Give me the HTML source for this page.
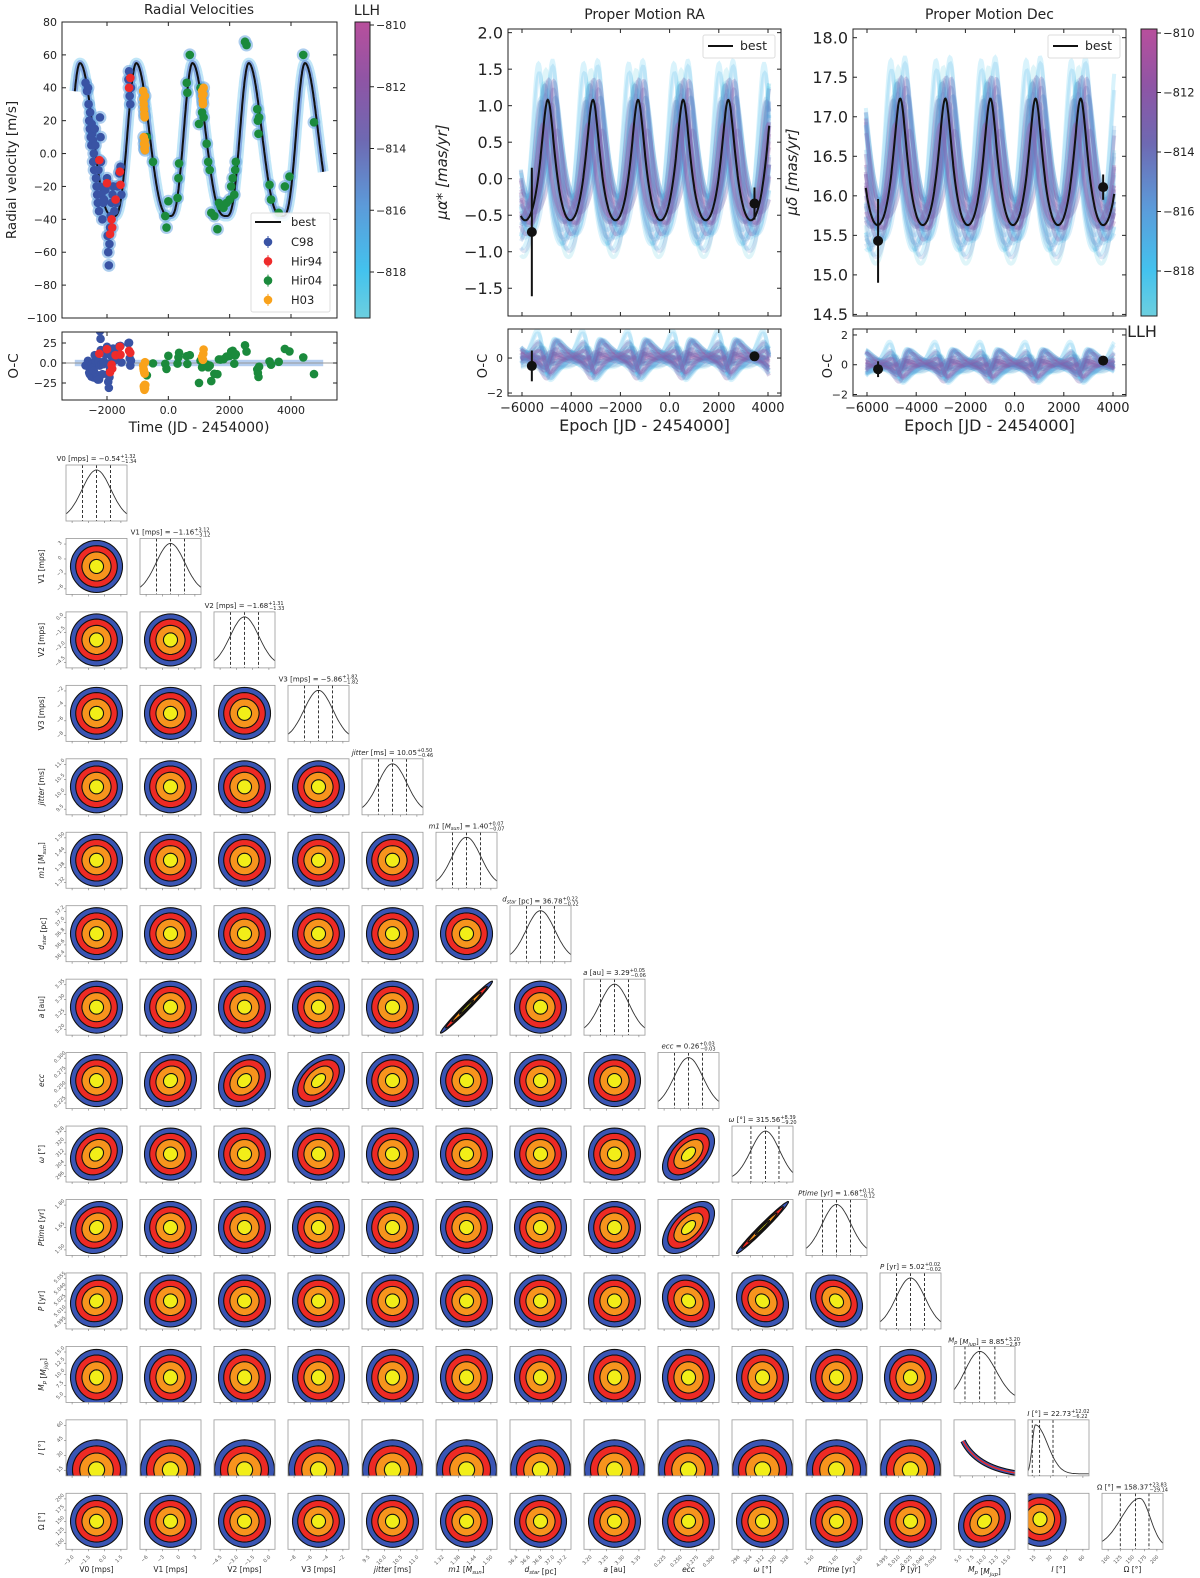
<!DOCTYPE html>
<html><head><meta charset="utf-8">
<style>
html,body{margin:0;padding:0;background:#fff;}
svg{display:block;font-family:"DejaVu Sans","Liberation Sans",sans-serif;}
</style></head>
<body>
<svg id="fig" width="1200" height="1578" viewBox="0 0 1200 1578" xmlns="http://www.w3.org/2000/svg">
<defs>
<linearGradient id="cbar" x1="0" y1="1" x2="0" y2="0">
<stop offset="0" stop-color="#6ccfdf"/><stop offset="0.16" stop-color="#43c2ee"/><stop offset="0.38" stop-color="#5c9ad9"/><stop offset="0.6" stop-color="#6e69b2"/><stop offset="0.8" stop-color="#8e55a5"/><stop offset="1" stop-color="#b84f9c"/>
</linearGradient>
</defs>
</svg>
<script>
// ---------------- DATA ----------------
const rvC98T=[-2700,-2650,-2620,-2600,-2580,-2560,-2550,-2530,-2510,-2500,-2480,-2460,-2450,-2430,-2420,-2400,-2380,-2360,-2340,-2320,-2300,-2280,-2260,-2240,-2230,-2210,-2200,-2180,-2150,-2120,-2100,-2050,-2000,-1980,-1960,-1940,-1920,-1900,-1880,-1850,-1820,-1800,-1760,-1700,-1650,-1600,-1560,-1530,-1300,-1280,-1260,-1240,-1220];
const rvC98V=[43,38,40,30,20,15,25,10,5,18,12,8,-5,0,-10,15,5,-15,-20,-25,-30,-10,-35,-20,22,10,-5,-25,-40,-30,-28,-22,-15,-50,-60,-68,-55,-45,-38,-30,-25,-20,-35,-30,-20,-12,-8,-25,45,50,35,30,40];
const rvHir94T=[-2250,-2000,-1850,-1830,-1900,-1720,-1580,-1560,-1280,-1240];
const rvHir94V=[-4,-18,-40,-45,-49,-28,-11,-19,40,46];
const rvH03T=[-820,-810,-800,-790,-780,-770,-760,-800,-790,-780,-770,-760,-750,1100,1110,1120,1130,1140,1150];
const rvH03V=[38,33,30,27,24,22,35,10,6,3,8,2,5,38,35,32,30,36,40];
const rvHir04T=[-700,-500,-100,-60,0,300,330,350,600,620,700,1050,1000,1100,1150,1250,1300,1350,1400,1500,1600,1650,1700,1800,1900,2000,2050,2100,2150,2180,2200,2500,2550,2900,2920,2940,2960,3300,3350,3600,3800,3950,4400,4750];
const rvHir04V=[10,-5,-38,-45,-29,-27,-15,-6,43,37,60,40,18,25,22,6,-5,-10,-36,-38,-46,-30,-32,-33,-30,-28,-20,-15,-25,-10,-5,68,66,27,20,12,22,-19,-28,-36,-20,-14,60,19];
const rvTicksX=[-2000,0,2000,4000];
const rvTicksY=[-100,-80,-60,-40,-20,0,20,40,60,80];
const rvResTicksY=[-25,0,25];
const pmTicksX=[-6000,-4000,-2000,0,2000,4000];
const raTicksY=[-1.5,-1.0,-0.5,0.0,0.5,1.0,1.5,2.0];
const decTicksY=[14.5,15.0,15.5,16.0,16.5,17.0,17.5,18.0];
const raResTicksY=[-2,0];
const decResTicksY=[-2,0,2];
const raObsT=[-5600,3450], raObsV=[-0.73,-0.34], raObsE=[0.88,0.22];
const decObsT=[-5550,3600], decObsV=[15.43,16.11], decObsE=[0.53,0.16];
const raResV=[-0.45,0.1], decResV=[-0.3,0.28];
const llhTicks=[-810,-812,-814,-816,-818];
// posterior samples (amplitude scale, phase shift [d], offset shift, llh)
const sampAmp=[1.0,0.75,1.35,0.85,1.2,0.65,1.55,0.95,1.1,0.8,1.3,0.9,1.15,0.7,1.45,0.82,1.25,1.0,0.72,1.4,0.88,1.12,0.78,1.22,0.92,1.08,0.68,1.5,0.98,1.05,1.18,0.86,1.28,0.94,1.38,0.76];
const sampPh=[0,150,-150,300,-300,80,-80,230,-230,350,-350,120,-120,0,190,-190,270,-270,50,-50,320,-320,25,-25,160,-160,380,-380,100,-100,240,-240,40,-40,200,-200];
const sampOff=[0,0.12,-0.12,0.18,-0.18,0.06,-0.06,0.22,-0.22,0,0.14,-0.14,0.09,-0.09,0.2,-0.2,0.03,-0.03,0.11,-0.11,0.16,-0.16,0.07,-0.07,0,0.19,-0.19,0.1,-0.1,0.02,0.13,-0.13,0.05,-0.05,0.17,-0.17];
const sampLLH=[-813,-817,-818,-814,-816,-812,-819,-813,-815,-818,-817,-812,-814,-811,-818,-815,-817,-813,-819,-815,-818,-816,-812,-817,-813,-819,-813,-818,-814,-815,-812,-816,-813,-814,-817,-811];
// orbit fit parameters: peak time, max, min, falling fraction of period (null = keplerian w=0 shape)
const orbitP=1834, orbitE=0.26;
const rvFit=[-2880,55,-38,0.6];
const raFit=[-4950,1.08,-0.57,null];
const decFit=[-4650,17.23,15.63,null];
// corner plot
const cornerNames=["V0 [mps]","V1 [mps]","V2 [mps]","V3 [mps]","jitter [ms]","m1 [M_sun]","d_star [pc]","a [au]","ecc","ω [°]","Ptime [yr]","P [yr]","M_p [M_jup]","I [°]","Ω [°]"];
const cornerMed=["−0.54","−1.16","−1.68","−5.86","10.05","1.40","36.78","3.29","0.26","315.56","1.68","5.02","8.85","22.73","158.37"];
const cornerUp=["+1.32","+3.12","+1.31","+1.82","+0.50","+0.07","+0.22","+0.05","+0.03","+8.39","+0.12","+0.02","+3.20","+12.02","+23.83"];
const cornerLo=["−1.34","−3.12","−1.33","−1.82","−0.46","−0.07","−0.22","−0.06","−0.03","−9.20","−0.12","−0.02","−2.87","−6.22","−29.14"];
const cornerTicks=[["−3.0","−1.5","0.0","1.5"],["−6","−3","0","3"],["−4.5","−3.0","−1.5","0.0"],["−8","−6","−4","−2"],["9.5","10.0","10.5","11.0"],["1.32","1.38","1.44","1.50"],["36.4","36.6","36.8","37.0","37.2"],["3.20","3.25","3.30","3.35"],["0.225","0.250","0.275","0.300"],["296","304","312","320","328"],["1.50","1.65","1.80"],["4.995","5.010","5.025","5.040","5.055"],["5.0","7.5","10.0","12.5","15.0"],["15","30","45","60"],["100","125","150","175","200"]];
const diagMu=[0.5,0.5,0.5,0.5,0.5,0.5,0.5,0.5,0.5,0.55,0.5,0.5,0.42,0.12,0.62];
const diagSigL=[0.235,0.235,0.235,0.235,0.235,0.235,0.235,0.235,0.235,0.24,0.235,0.235,0.24,0.05,0.3];
const diagSigR=[0.235,0.235,0.235,0.235,0.235,0.235,0.235,0.235,0.235,0.23,0.235,0.235,0.27,0.2,0.17];
const diagQ16=[0.27,0.27,0.27,0.27,0.27,0.27,0.27,0.27,0.27,0.31,0.27,0.27,0.18,0.07,0.30];
const diagQ50=[0.5,0.5,0.5,0.5,0.5,0.5,0.5,0.5,0.5,0.55,0.5,0.5,0.42,0.19,0.55];
const diagQ84=[0.73,0.73,0.73,0.73,0.73,0.73,0.73,0.73,0.73,0.77,0.73,0.73,0.67,0.41,0.77];
const corrRow=[7,8,8,8,9,9,10,10,10,11,11,11,11,14];
const corrCol=[5,1,2,3,0,8,0,8,9,0,8,9,10,12];
const corrRho=[0.985,0.1,0.25,0.45,0.18,0.5,0.12,0.55,0.985,0.1,-0.15,-0.15,-0.2,0.2];
const levels=[1,0.8,0.56,0.27];
const levelColors=["#3a55b4","#ee2a24","#f7941d","#f2ee18"];

// ---------------- HELPERS ----------------
const NS="http://www.w3.org/2000/svg";
const root=document.getElementById('fig');
function mk(tag,parent,attrs){const e=document.createElementNS(NS,tag);for(const k in attrs)e.setAttribute(k,attrs[k]);parent.appendChild(e);return e;}
function kep0(t){const M=2*Math.PI*t/orbitP;let E=M;for(let i=0;i<12;i++)E=E-(E-orbitE*Math.sin(E)-M)/(1-orbitE*Math.cos(E));const nu=2*Math.atan2(Math.sqrt(1+orbitE)*Math.sin(E/2),Math.sqrt(1-orbitE)*Math.cos(E/2));return Math.cos(nu)+orbitE;}
// normalized periodic shape in [-1,1], peak at t=tPeak
function norm(t,tPeak,fall){
  if(fall===null){const g=kep0(t-tPeak);return 2*(g-(orbitE-1))/2-1;}
  let ph=((t-tPeak)/orbitP)%1;if(ph<0)ph+=1;
  const c=ph<fall?Math.cos(Math.PI*ph/fall):-Math.cos(Math.PI*(ph-fall)/(1-fall));
  return 2*Math.pow((c+1)/2,1.5)-1;
}
function model(fit,t){const mid=(fit[1]+fit[2])/2,half=(fit[1]-fit[2])/2;return mid+half*norm(t,fit[0],fit[3]);}
function sampleModel(fit,i,t){const mid=(fit[1]+fit[2])/2,half=(fit[1]-fit[2])/2;return mid+half*sampOff[i]+half*sampAmp[i]*norm(t,fit[0]+sampPh[i],fit[3]);}
function lin(d0,d1,r0,r1){return v=>r0+(v-d0)*(r1-r0)/(d1-d0);}
const cstops=[[-810,[184,79,156]],[-812,[142,85,165]],[-814,[110,105,178]],[-816,[92,154,217]],[-818,[67,194,238]],[-819.5,[108,208,222]]];
function llhColor(v){for(let i=0;i<cstops.length-1;i++){const a=cstops[i],b=cstops[i+1];if(v<=a[0]&&v>=b[0]){const f=(a[0]-v)/(a[0]-b[0]);const c=a[1].map((x,j)=>Math.round(x+(b[1][j]-x)*f));return `rgb(${c[0]},${c[1]},${c[2]})`;}}return 'rgb(108,208,222)';}
function fmt(v){return (v<0?'−':'')+Math.abs(v).toFixed(Number.isInteger(v)&&Math.abs(v)>=10?0:1);}
function frame(g,b,xs,ys,xt,yt,opt){
  const r=mk('rect',g,{x:b.x,y:b.y,width:b.w,height:b.h,fill:'none',stroke:'#222','stroke-width':1});
  
  
  xt.forEach(v=>{const x=xs(v);mk('line',g,{x1:x,x2:x,y1:b.y+b.h,y2:b.y+b.h-4,stroke:'#222'});mk('line',g,{x1:x,x2:x,y1:b.y,y2:b.y+4,stroke:'#222'});
    if(opt.xlab){const t=mk('text',g,{x:x,y:b.y+b.h+(opt.xfs||opt.fs)+3,'font-size':opt.xfs||opt.fs,'text-anchor':'middle',fill:'#222'});t.textContent=fmt(v);
      
      }});
  yt.forEach(v=>{const y=ys(v);mk('line',g,{x1:b.x,x2:b.x+4,y1:y,y2:y,stroke:'#222'});mk('line',g,{x1:b.x+b.w,x2:b.x+b.w-4,y1:y,y2:y,stroke:'#222'});
    const t=mk('text',g,{x:b.x-5,y:y+opt.fs*0.36,'font-size':opt.fs,'text-anchor':'end',fill:'#222'});t.textContent=opt.yfmt?opt.yfmt(v):fmt(v);
    
    });
}
function txt(g,x,y,s,fs,anchor,rot,extra){const t=mk('text',g,Object.assign({x:x,y:y,'font-size':fs,'text-anchor':anchor||'middle',fill:'#222'},extra||{}));if(rot)t.setAttribute('transform',`rotate(${rot} ${x} ${y})`);t.textContent=s;return t;}
function clip(id,b){const c=mk('clipPath',root.querySelector('defs'),{id:id});mk('rect',c,{x:b.x,y:b.y,width:b.w,height:b.h});}
function pathFrom(ts,fn,xs,ys){let d='';ts.forEach((t,i)=>{d+=(i?'L':'M')+xs(t).toFixed(1)+','+ys(fn(t)).toFixed(1);});return d;}

// ---------------- RV PANEL ----------------
const gRV=mk('g',root,{});


const rvB={x:62,y:22,w:275,h:296}, rvRB={x:62,y:332,w:275,h:68};
const rvX=lin(-2000,4000,107,291), rvY=lin(-100,80,318,22), rvRY=lin(-25,25,383,343);
clip('c-rv',rvB);clip('c-rvr',rvRB);
const rvModel=t=>model(rvFit,t);
const tGrid=[];for(let t=-3050;t<=5050;t+=12)tGrid.push(t);
const gRVc=mk('g',gRV,{'clip-path':'url(#c-rv)'});
mk('path',gRVc,{d:pathFrom(tGrid,rvModel,rvX,rvY),fill:'none',stroke:'#4ab8ea','stroke-width':11,'stroke-opacity':0.35,'stroke-linejoin':'round'});
mk('path',gRVc,{d:pathFrom(tGrid,rvModel,rvX,rvY),fill:'none',stroke:'#5b7fd0','stroke-width':6,'stroke-opacity':0.6,'stroke-linejoin':'round'});
const sets=[[rvC98T,rvC98V,'#3953a4','c98'],[rvHir94T,rvHir94V,'#ee2b2b','hir94'],[rvHir04T,rvHir04V,'#1b8a3c','hir04'],[rvH03T,rvH03V,'#f9a21b','h03']];
sets.forEach(s=>{s[0].forEach((t,i)=>{mk('circle',gRVc,{cx:rvX(t),cy:rvY(s[1][i]),r:6.5,fill:'#6aa6e0','fill-opacity':0.55});});});
const bestRV=mk('path',gRVc,{d:pathFrom(tGrid,rvModel,rvX,rvY),fill:'none',stroke:'#111','stroke-width':2});


sets.forEach(s=>{s[0].forEach((t,i)=>{const c=mk('circle',gRVc,{cx:rvX(t),cy:rvY(s[1][i]),r:4.3,fill:s[2]});
  
  });});
frame(gRV,rvB,rvX,rvY,rvTicksX,rvTicksY,{fs:11});
// residuals
const gRVr=mk('g',gRV,{'clip-path':'url(#c-rvr)'});
mk('rect',gRVr,{x:rvX(-3050),y:rvRY(4),width:rvX(5050)-rvX(-3050),height:rvRY(-4)-rvRY(4),fill:'#6a9ce0','fill-opacity':0.5});
mk('line',gRVr,{x1:rvRB.x,x2:rvRB.x+rvRB.w,y1:rvRY(0),y2:rvRY(0),stroke:'#999','stroke-width':1});
sets.forEach(s=>{s[0].forEach((t,i)=>{const c=mk('circle',gRVr,{cx:rvX(t),cy:rvRY(s[1][i]-rvModel(t)),r:4.3,fill:s[2]});
  
  });});
frame(gRV,rvRB,rvX,rvRY,rvTicksX,rvResTicksY,{fs:11,xlab:true});
let t;
t=txt(gRV,199,14,'Radial Velocities',13.5);
t=txt(gRV,16,170,'Radial velocity [m/s]',13.5,'middle',-90);
t=txt(gRV,18,366,'O-C',13.5,'middle',-90);
t=txt(gRV,199,432,'Time (JD - 2454000)',14);
// legend
const lg=mk('g',gRV,{});


mk('rect',lg,{x:251,y:213,width:79,height:99,rx:2,fill:'#fff','fill-opacity':0.85,stroke:'#ddd'});
mk('line',lg,{x1:255,x2:281,y1:222,y2:222,stroke:'#111','stroke-width':2});
txt(lg,291,226,'best',11.5,'start');
[['C98','#3953a4'],['Hir94','#ee2b2b'],['Hir04','#1b8a3c'],['H03','#f9a21b']].forEach((e,i)=>{const y=242+i*19.3;mk('circle',lg,{cx:268,cy:y,r:4.3,fill:e[1]});mk('line',lg,{x1:268,x2:268,y1:y-6,y2:y+6,stroke:e[1],'stroke-width':1});
  const tt=txt(lg,291,y+4,e[0],11.5,'start');});
// colorbar RV
const cb1=mk('rect',gRV,{x:355,y:22,width:15,height:296,fill:'url(#cbar)',stroke:'#222'});


const cbY1=lin(-810,-818,25,272);
llhTicks.forEach(v=>{const y=cbY1(v);mk('line',gRV,{x1:370,x2:374,y1:y,y2:y,stroke:'#222'});txt(gRV,376,y+4,'−'+Math.abs(v),11,'start');});
t=txt(gRV,367,15,'LLH',14);

// ---------------- PM PANELS ----------------
function pmPanel(id,b,rb,ylim,rylim,yt,rt,fit,obsT,obsV,obsE,resV,title,ylab,ylabX,name){
  const g=mk('g',root,{});
  
  
  const xs=lin(-6000,4000,b.x+14,b.x+b.w-13), ys=lin(ylim[0],ylim[1],b.y+b.h,b.y), rys=lin(rylim[0],rylim[1],rb.y+rb.h,rb.y);
  clip('c-'+id,b);clip('c-'+id+'r',rb);
  const best=t=>model(fit,t);
  const ts=[];for(let t=-6050;t<=4050;t+=20)ts.push(t);
  const gc=mk('g',g,{'clip-path':`url(#c-${id})`}), gr=mk('g',g,{'clip-path':`url(#c-${id}r)`});
  sampAmp.forEach((a,i)=>{
    const f=t=>sampleModel(fit,i,t);
    const col=llhColor(sampLLH[i]);
    const op=sampLLH[i]>-815?0.3:0.2;
    const p=mk('path',gc,{d:pathFrom(ts,f,xs,ys),fill:'none',stroke:col,'stroke-width':4,'stroke-opacity':op});
    
    
    const q=mk('path',gr,{d:pathFrom(ts,t=>f(t)-best(t),xs,rys),fill:'none',stroke:col,'stroke-width':4,'stroke-opacity':op});
    
    
  });
  const bl=mk('path',gc,{d:pathFrom(ts,best,xs,ys),fill:'none',stroke:'#111','stroke-width':2});
  
  
  obsT.forEach((t,i)=>{
    mk('line',g,{x1:xs(t),x2:xs(t),y1:ys(obsV[i]-obsE[i]),y2:ys(obsV[i]+obsE[i]),stroke:'#111','stroke-width':2});
    const c=mk('circle',g,{cx:xs(t),cy:ys(obsV[i]),r:5,fill:'#111'});
    
    
    mk('line',g,{x1:xs(t),x2:xs(t),y1:rys(resV[i]-obsE[i]),y2:rys(resV[i]+obsE[i]),stroke:'#111','stroke-width':2});
    const r=mk('circle',g,{cx:xs(t),cy:rys(resV[i]),r:5,fill:'#111'});
    
    
  });
  frame(g,b,xs,ys,pmTicksX,yt,{fs:16,yfmt:v=>(v<0?'−':'')+Math.abs(v).toFixed(1)});
  frame(g,rb,xs,rys,pmTicksX,rt,{fs:11,xfs:13,xlab:true,yfmt:v=>(v<0?'−':'')+Math.abs(v)});
  let tt=txt(g,b.x+b.w/2,19,title,14);
  tt=txt(g,b.x+b.w/2,431,'Epoch [JD - 2454000]',16);
  tt=txt(g,ylabX,172,ylab,15,'middle',-90,{'font-style':'italic'});
  tt=txt(g,b.x-21,366,'O-C',13,'middle',-90);
  const lg=mk('g',g,{});
  
  
  mk('rect',lg,{x:b.x+b.w-78,y:35,width:72,height:23,rx:2,fill:'#fff','fill-opacity':0.9,stroke:'#ddd'});
  mk('line',lg,{x1:b.x+b.w-73,x2:b.x+b.w-48,y1:46,y2:46,stroke:'#111','stroke-width':2});
  txt(lg,b.x+b.w-41,50,'best',12.5,'start');
}
pmPanel('ra',{x:508,y:29,w:273,h:287},{x:508,y:329,w:273,h:67},[-1.88,2.05],[-2.17,1.66],raTicksY,raResTicksY,raFit,raObsT,raObsV,raObsE,raResV,'Proper Motion RA','μα* [mas/yr]',447,'pm-ra-panel');
pmPanel('dec',{x:853,y:29,w:273,h:287},{x:853,y:329,w:273,h:67},[14.48,18.11],[-2.1,2.4],decTicksY,decResTicksY,decFit,decObsT,decObsV,decObsE,decResV,'Proper Motion Dec','μδ [mas/yr]',797,'pm-dec-panel');
const cb2=mk('rect',root,{x:1141,y:29,width:16,height:287,fill:'url(#cbar)',stroke:'#222'});


const cbY2=lin(-810,-818,33,271);
llhTicks.forEach(v=>{const y=cbY2(v);mk('line',root,{x1:1157,x2:1161,y1:y,y2:y,stroke:'#222'});txt(root,1163,y+4,'−'+Math.abs(v),11.5,'start');});
t=txt(root,1142,337,'LLH',16,'middle');

// ---------------- CORNER PLOT ----------------
const gC=mk('g',root,{});


const N=15;
function cell(r,c){return {x:66+74*c,y:465+73.45*r,w:61,h:56};}
function rhoOf(r,c){for(let i=0;i<corrRow.length;i++)if(corrRow[i]===r&&corrCol[i]===c)return corrRho[i];return 0;}
function ellPath(cx,cy,rx,ry,rho,s){let d='';for(let k=0;k<=60;k++){const th=2*Math.PI*k/60;const u=Math.cos(th),v=Math.sin(th);const x=u,y=rho*u+Math.sqrt(1-rho*rho)*v;d+=(k?'L':'M')+(cx+x*rx*s).toFixed(1)+','+(cy-y*ry*s).toFixed(1);}return d+'Z';}
function labelText(g,x,y,name,fs,rot){
  const tt=mk('text',g,{x:x,y:y,'font-size':fs,'text-anchor':'middle',fill:'#222'});
  if(rot)tt.setAttribute('transform',`rotate(${rot} ${x} ${y})`);
  const m=name.match(/^([^_\[]+?)(?:_(\w+))?( \[([^\]_]+)(?:_(\w+))?\])?$/);
  const it=['jitter','m1','d','a','ecc','ω','Ptime','P','M','I'].some(k=>m&&m[1].trim()===k);
  const t1=mk('tspan',tt,{'font-style':it?'italic':'normal'});t1.textContent=m?m[1]:name;
  if(m&&m[2]){const s=mk('tspan',tt,{'font-size':fs*0.7,dy:fs*0.25,'font-style':'italic'});s.textContent=m[2];const b=mk('tspan',tt,{dy:-fs*0.25});b.textContent='';}
  if(m&&m[3]){const a=mk('tspan',tt,{});a.textContent=' [';const u=mk('tspan',tt,{'font-style':m[5]?'italic':'normal'});u.textContent=m[4];
    if(m[5]){const s=mk('tspan',tt,{'font-size':fs*0.7,dy:fs*0.25,'font-style':'italic'});s.textContent=m[5];const b=mk('tspan',tt,{dy:-fs*0.25});b.textContent=']';}else{const b=mk('tspan',tt,{});b.textContent=']';}}
  return tt;
}
for(let r=0;r<N;r++){for(let c=0;c<=r;c++){
  const b=cell(r,c);const g=mk('g',gC,{});
  const id=`cc${r}_${c}`;clip(id,b);
  if(r===c){
    
    
    let d='';for(let k=0;k<=60;k++){const f=k/60;const s=f<diagMu[r]?diagSigL[r]:diagSigR[r];const p=Math.exp(-0.5*Math.pow((f-diagMu[r])/s,2));d+=(k?'L':'M')+(b.x+f*b.w).toFixed(1)+','+(b.y+5+(b.h-7)*(1-p)).toFixed(1);}
    mk('path',g,{d:d,fill:'none',stroke:'#333','stroke-width':0.9,'clip-path':`url(#${id})`});
    [diagQ16[r],diagQ50[r],diagQ84[r]].forEach(q=>{const l=mk('line',g,{x1:b.x+q*b.w,x2:b.x+q*b.w,y1:b.y,y2:b.y+b.h,stroke:'#222','stroke-width':0.9,'stroke-dasharray':'3,2'});
      
      });
    const tt=labelText(g,b.x+b.w/2,b.y-4,cornerNames[r],7,0);
    const eq=mk('tspan',tt,{});eq.textContent=' = '+cornerMed[r];
    const up=mk('tspan',tt,{'font-size':5,dy:-3});up.textContent=cornerUp[r];
    const lo=mk('tspan',tt,{'font-size':5,dy:5,dx:-(cornerUp[r].length*2.9)});lo.textContent=cornerLo[r];
    
    
  } else {
    
    
    const gg=mk('g',g,{'clip-path':`url(#${id})`});
    let cx=b.x+b.w/2, cy=b.y+b.h/2, rx=26, ry=26, rho=rhoOf(r,c);
    if(r===13&&c!==12){cy=b.y+b.h-6;ry=30;rx=30;}
    if(r===12){cy=b.y+b.h/2+3;ry=28;}
    if(r===14&&c===13){cx=b.x+12;cy=b.y+b.h/2-2;rx=26;ry=27;}
    if(r===13&&c===12){
      const d=`M${b.x+9},${b.y+21} Q${b.x+22},${b.y+47} ${b.x+b.w},${b.y+b.h-3}`;
      mk('path',gg,{d:d,fill:'none',stroke:'#111','stroke-width':5.5});
      mk('path',gg,{d:d,fill:'none',stroke:'#3a55b4','stroke-width':3.5});
      mk('path',gg,{d:d,fill:'none',stroke:'#ee2a24','stroke-width':1.5});
    } else {
      levels.forEach((s,i)=>{mk('path',gg,{d:ellPath(cx,cy,rx,ry,rho,s),fill:levelColors[i],stroke:'#111','stroke-width':1.1});});
    }
  }
  const fr=mk('rect',g,{x:b.x,y:b.y,width:b.w,height:b.h,fill:'none',stroke:'#999','stroke-width':0.8});
  
  
  const nx=cornerTicks[c].length;
  for(let k=0;k<nx;k++){const x=b.x+b.w*(0.1+0.8*k/(nx-1));mk('line',g,{x1:x,x2:x,y1:b.y+b.h,y2:b.y+b.h+2,stroke:'#777','stroke-width':0.6});
    if(r===N-1){const tl=txt(g,x+2,b.y+b.h+8,cornerTicks[c][k],5,'end',-45,{fill:'#555'});}}
  if(c===0&&r>0){const ny=cornerTicks[r].length;for(let k=0;k<ny;k++){const y=b.y+b.h*(0.9-0.8*k/(ny-1));mk('line',g,{x1:b.x-2,x2:b.x,y1:y,y2:y,stroke:'#777','stroke-width':0.6});
    const tl=txt(g,b.x-5,y,cornerTicks[r][k],5,'middle',-45,{fill:'#555'});}
    const yl=labelText(g,44,b.y+b.h/2,cornerNames[r],7.5,-90);
    
    }
  if(r===N-1){const xl=labelText(g,b.x+b.w/2,1572,cornerNames[c],7.5,0);
    
    }
}}
</script>
</body></html>
